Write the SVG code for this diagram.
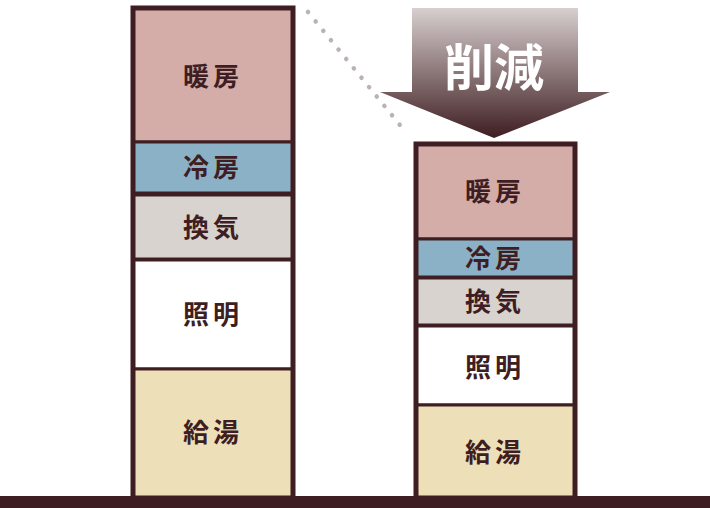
<svg xmlns="http://www.w3.org/2000/svg" width="710" height="508" viewBox="0 0 710 508">
<defs>
<linearGradient id="g" x1="0" y1="0" x2="0" y2="1">
<stop offset="0" stop-color="#d8cfcf"/>
<stop offset="1" stop-color="#3e1d21"/>
</linearGradient>
</defs>
<style>
.b{stroke:#3e1e22;stroke-width:3}
.t{font-family:"Noto Sans CJK JP",sans-serif;font-weight:bold;font-size:26px;fill:#3e1e22;text-anchor:middle;letter-spacing:4px}
</style>
<rect width="710" height="508" fill="#fff"/>
<g id="connectors">
<line x1="308" y1="12" x2="404" y2="130" stroke="#bbb3b3" stroke-width="4.5" stroke-linecap="round" stroke-dasharray="0.1 12"/>
</g>
<g id="arrow">
<path d="M412 8H578V92H610L494 138L380 92H412Z" fill="url(#g)"/>
<text x="494" y="86" font-family="Noto Sans CJK JP,sans-serif" font-weight="bold" font-size="50" fill="#fff" text-anchor="middle">削減</text>
</g>
<g id="left">
<rect x="133" y="8" width="160" height="134" fill="#d4aca8" class="b"/>
<rect x="133" y="142" width="160" height="51" fill="#8bb1c6" class="b"/>
<rect x="133" y="195" width="160" height="64" fill="#d8d3ce" class="b"/>
<rect x="133" y="260" width="160" height="109" fill="#fff" class="b"/>
<rect x="133" y="369" width="160" height="129" fill="#ede0b9" class="b"/>
<rect x="133" y="8" width="160" height="490" fill="none" stroke="#3e1e22" stroke-width="5"/>
<text class="t" x="213" y="86">暖房</text>
<text class="t" x="213" y="177">冷房</text>
<text class="t" x="213" y="237">換気</text>
<text class="t" x="213" y="324">照明</text>
<text class="t" x="213" y="442">給湯</text>
</g>
<g id="right">
<rect x="416" y="144" width="159" height="95" fill="#d4aca8" class="b"/>
<rect x="416" y="239" width="159" height="38" fill="#8bb1c6" class="b"/>
<rect x="416" y="278" width="159" height="47" fill="#d8d3ce" class="b"/>
<rect x="416" y="326" width="159" height="79" fill="#fff" class="b"/>
<rect x="416" y="405" width="159" height="93" fill="#ede0b9" class="b"/>
<rect x="416" y="144" width="159" height="354" fill="none" stroke="#3e1e22" stroke-width="5"/>
<text class="t" x="495" y="201">暖房</text>
<text class="t" x="495" y="268">冷房</text>
<text class="t" x="495" y="311">換気</text>
<text class="t" x="495" y="377">照明</text>
<text class="t" x="495" y="462">給湯</text>
</g>
<rect id="ground" x="0" y="496" width="710" height="12" fill="#3e1e22"/>
</svg>
